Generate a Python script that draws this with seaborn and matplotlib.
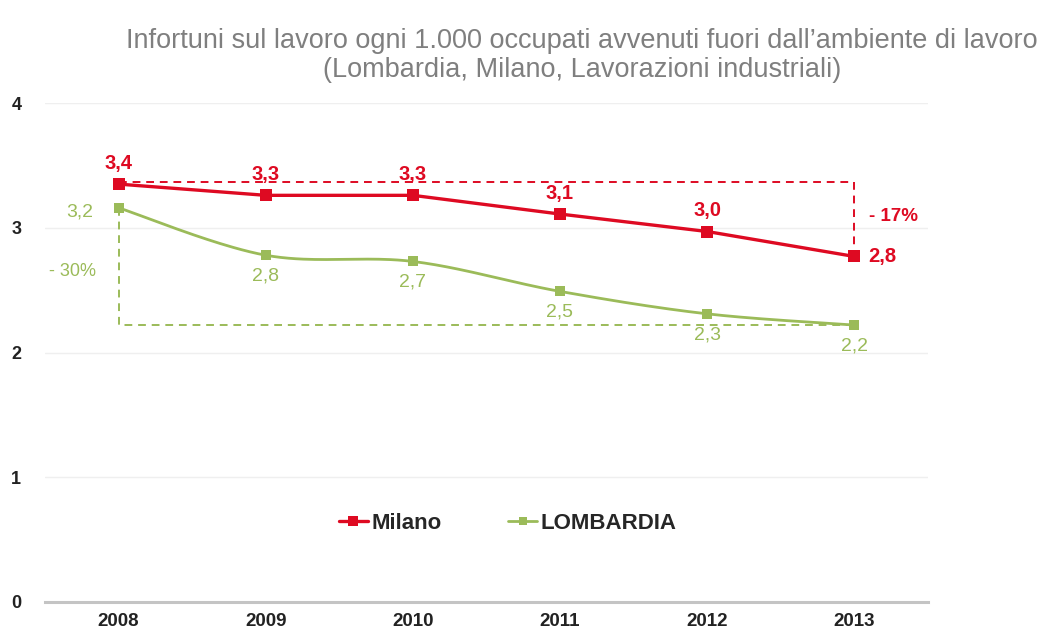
import matplotlib
matplotlib.use("Agg")
import matplotlib.pyplot as plt
from matplotlib.lines import Line2D
import seaborn as sns
import pandas as pd
import numpy as np

years = ["2008", "2009", "2010", "2011", "2012", "2013"]
milano = [3.35, 3.26, 3.26, 3.11, 2.97, 2.77]
lombardia = [3.16, 2.78, 2.73, 2.49, 2.31, 2.22]
milano_label = ["3,4", "3,3", "3,3", "3,1", "3,0", "2,8"]
lombardia_label = ["3,2", "2,8", "2,7", "2,5", "2,3", "2,2"]
pct_milano = "- 17%"
pct_lombardia = "- 30%"
yticks = [0, 1, 2, 3, 4]
title = ("Infortuni sul lavoro ogni 1.000 occupati avvenuti fuori dall\u2019ambiente di lavoro\n"
         "(Lombardia, Milano, Lavorazioni industriali)")

RED = "#de0a22"
GREEN = "#9bbb59"

sns.set_theme(style="white")
plt.rcParams['font.family'] = ['Liberation Sans', 'DejaVu Sans']

df = pd.DataFrame({
    "Anno": years * 2,
    "Valore": milano + lombardia,
    "Serie": ["Milano"] * 6 + ["LOMBARDIA"] * 6,
})
df["x"] = list(range(6)) * 2


def smooth(xs, ys, n=40):
    """Excel-like smoothed line (Catmull-Rom Bezier) through the data points."""
    P = np.column_stack([xs, ys]).astype(float)
    Pe = np.vstack([P[0], P, P[-1]])
    out = []
    t = np.linspace(0, 1, n)[:, None]
    for i in range(len(P) - 1):
        p0, p3 = P[i], P[i + 1]
        c1 = p0 + (Pe[i + 2] - Pe[i]) / 6.0
        c2 = p3 - (Pe[i + 3] - Pe[i + 1]) / 6.0
        seg = ((1 - t) ** 3) * p0 + 3 * ((1 - t) ** 2) * t * c1 + 3 * (1 - t) * t ** 2 * c2 + t ** 3 * p3
        out.append(seg if i == 0 else seg[1:])
    out = np.vstack(out)
    return out[:, 0], out[:, 1]


fig = plt.figure(figsize=(10.58, 6.34), dpi=100)
ax = fig.add_axes([0.0425, 0.0505, 0.8345, 0.787])

# Milano: straight segments drawn by seaborn
sns.lineplot(data=df[df.Serie == "Milano"], x="x", y="Valore", color=RED, linewidth=2.4,
             marker="s", markersize=9, markeredgewidth=0, ax=ax, zorder=4, legend=False)
# LOMBARDIA: smoothed line + markers
sx, sy = smooth(df.loc[df.Serie == "LOMBARDIA", "x"], df.loc[df.Serie == "LOMBARDIA", "Valore"])
ax.plot(sx, sy, color=GREEN, linewidth=2.0, zorder=3)
sns.scatterplot(data=df[df.Serie == "LOMBARDIA"], x="x", y="Valore", color=GREEN, marker="s",
                s=60, linewidth=0, ax=ax, zorder=4, legend=False)

ax.set_xlim(-0.5, 5.5)
ax.set_ylim(0, 4)
ax.set_yticks(yticks)
ax.set_yticklabels([str(v) for v in yticks], fontsize=13, fontweight="bold", color="#222222")
ax.set_xticks(range(6))
ax.set_xticklabels(years, fontsize=13.5, fontweight="bold", color="#222222")
ax.set_xticks(np.arange(-0.5, 6.0, 1.0), minor=True)
ax.tick_params(axis="x", which="major", length=0, pad=8)
ax.tick_params(axis="x", which="minor", length=6, color="#c8c8c8", width=1, direction="inout")
ax.tick_params(axis="y", length=0, pad=17)
ax.set_xlabel("")
ax.set_ylabel("")

for s in ["top", "right", "left"]:
    ax.spines[s].set_visible(False)
ax.spines["bottom"].set_color("#c4c4c4")
ax.spines["bottom"].set_linewidth(2.2)
ax.yaxis.grid(True, color="#efefef", linewidth=1)
ax.set_axisbelow(True)

# data labels
for i, (v, lab) in enumerate(zip(milano, milano_label)):
    if i == 5:
        ax.annotate(lab, (i, v), xytext=(10, 0), textcoords="offset points", ha="left", va="center",
                    color=RED, fontsize=14.5, fontweight="bold", zorder=5)
    else:
        ax.annotate(lab, (i, v), xytext=(0, 8), textcoords="offset points", ha="center", va="bottom",
                    color=RED, fontsize=14.5, fontweight="bold", zorder=5)
for i, (v, lab) in enumerate(zip(lombardia, lombardia_label)):
    if i == 0:
        ax.annotate(lab, (i, v), xytext=(-18, -3), textcoords="offset points", ha="right", va="center",
                    color=GREEN, fontsize=14, zorder=5)
    else:
        ax.annotate(lab, (i, v), xytext=(0, -9), textcoords="offset points", ha="center", va="top",
                    color=GREEN, fontsize=14, zorder=5)

# dashed brackets
top_m = 3.37
ax.plot([0, 5, 5], [top_m, top_m, milano[5]], color=RED, linestyle=(0, (4, 3)), linewidth=1.4, zorder=2)
ax.text(5.1, (top_m + milano[5]) / 2 + 0.02, pct_milano, color=RED, fontsize=13.5,
        fontweight="bold", ha="left", va="center")
ax.plot([0, 0, 5], [lombardia[0], lombardia[5], lombardia[5]], color=GREEN,
        linestyle=(0, (4, 3)), linewidth=1.4, zorder=2)
ax.text(-0.15, (lombardia[0] + lombardia[5]) / 2 - 0.04, pct_lombardia, color=GREEN, fontsize=13,
        ha="right", va="center")

handles = [Line2D([0], [0], color=RED, lw=2.4, marker="s", markersize=7, markeredgewidth=0),
           Line2D([0], [0], color=GREEN, lw=2.0, marker="s", markersize=6, markeredgewidth=0)]
ax.legend(handles, ["Milano", "LOMBARDIA"], loc="center", bbox_to_anchor=(0.524, 0.158), ncol=2,
          frameon=False, prop={"weight": "bold", "size": 16}, handlelength=1.3, handletextpad=0.15,
          columnspacing=3.0)

fig.text(0.55, 0.913, title, ha="center", va="center", color="#7f7f7f", fontsize=19.5,
         linespacing=1.15)

fig.savefig("out.png", dpi=100)
